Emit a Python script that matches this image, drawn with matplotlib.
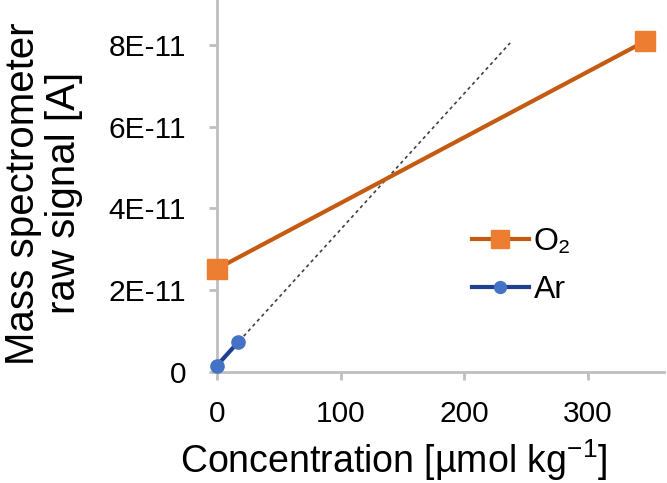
import matplotlib
matplotlib.use('Agg')
import matplotlib.pyplot as plt

plt.rcParams['font.family'] = ['Liberation Sans', 'DejaVu Sans']
plt.rcParams['mathtext.fontset'] = 'custom'
plt.rcParams['mathtext.rm'] = 'Liberation Sans'
plt.rcParams['mathtext.it'] = 'Liberation Sans'

# data
o2_x = [0, 346]
o2_y = [2.52e-11, 8.09e-11]
ar_x = [0, 17]
ar_y = [0.15e-11, 0.72e-11]
fit_x = [0, 237]
fit_y = [0.15e-11, 8.05e-11]
xticks = [0, 100, 200, 300]
yticks = [0, 2e-11, 4e-11, 6e-11, 8e-11]
ytick_labels = ['0', '2E-11', '4E-11', '6E-11', '8E-11']

fig = plt.figure(figsize=(6.67, 4.83), dpi=100)
ax = fig.add_axes([0.325, 0.23, 0.67, 0.77])

ax.plot(fit_x, fit_y, color='#404040', lw=1.2, ls=(0, (2, 2)), zorder=1)
ax.plot(o2_x, o2_y, color='#c55a11', lw=3, marker='s', ms=14,
        mfc='#ed7d31', mec='#ed7d31', label='O\u2082', zorder=3, clip_on=False)
ax.plot(ar_x, ar_y, color='#1f3f8f', lw=3, marker='o', ms=9.5,
        mfc='#4472c4', mec='#4472c4', label='Ar', zorder=3, clip_on=False)

ax.set_xlim(0, 361)
ax.set_ylim(0, 9.1e-11)
ax.set_xticks(xticks)
ax.set_yticks(yticks)
ax.set_yticklabels(ytick_labels)
ax.tick_params(labelsize=21.5, color='#bfbfbf', width=2, length=6)
ax.tick_params(axis='y', pad=16)
ax.tick_params(axis='x', pad=14)

for s in ['top', 'right']:
    ax.spines[s].set_visible(False)
for s in ['left', 'bottom']:
    ax.spines[s].set_color('#bfbfbf')
    ax.spines[s].set_linewidth(2)

ax.set_xlabel(r'Concentration [µmol kg$^{\mathregular{-1}}$]', fontsize=27)
ax.xaxis.set_label_coords(0.395, -0.175)
ax.set_ylabel('Mass spectrometer\nraw signal [A]', fontsize=29, linespacing=1.1)
ax.yaxis.set_label_coords(-0.30, 0.48)

ax.legend(loc='center left', bbox_to_anchor=(0.57, 0.285), frameon=False,
          fontsize=23, handlelength=1.8, labelspacing=0.55, handletextpad=0.15,
          borderpad=0, borderaxespad=0, markerscale=0.9)

fig.savefig('out.png', dpi=100)
